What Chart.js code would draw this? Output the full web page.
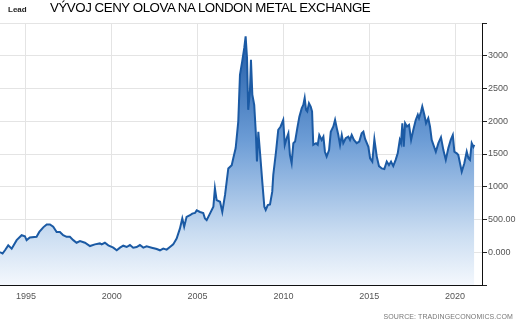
<!DOCTYPE html>
<html>
<head>
<meta charset="utf-8">
<script src="https://cdn.jsdelivr.net/npm/chart.js@4/dist/chart.umd.min.js"></script>
<style>
    html, body { margin: 0; padding: 0; background: #fff; }
    #wrap { position: relative; width: 520px; height: 323px; overflow: hidden; }
    canvas { position: absolute; left: 0; top: 0; }
    .lead { position: absolute; left: 8px; top: 5px; font: bold 8px "Liberation Sans", Arial, sans-serif; color: #222; }
    .title { position: absolute; left: 50px; top: 0px; font: 13.3px "Liberation Sans", Arial, sans-serif; color: #000; letter-spacing: -0.45px; white-space: nowrap; }
    .source { position: absolute; right: 7px; top: 313px; font: 7px "Liberation Sans", Arial, sans-serif; color: #777; letter-spacing: 0.1px; }
</style>
</head>
<body>
<div id="wrap">
    <canvas id="leadChart" width="520" height="323"></canvas>
    <div class="lead">Lead</div>
    <div class="title">VÝVOJ CENY OLOVA NA LONDON METAL EXCHANGE</div>
    <div class="source">SOURCE: TRADINGECONOMICS.COM</div>
</div>
<script>
const dates = [
    1993.49, 1993.64, 1993.78, 1993.97, 1994.17, 1994.46, 1994.75, 1994.94, 1995.04, 1995.23,
    1995.62, 1995.78, 1996.01, 1996.21, 1996.40, 1996.59, 1996.79, 1996.98, 1997.17, 1997.37,
    1997.56, 1997.76, 1997.95, 1998.15, 1998.44, 1998.73, 1999.02, 1999.31, 1999.41, 1999.60,
    1999.80, 2000.09, 2000.29, 2000.48, 2000.67, 2000.87, 2001.06, 2001.25, 2001.45, 2001.64,
    2001.84, 2002.03, 2002.33, 2002.62, 2002.81, 2003.00, 2003.20, 2003.39, 2003.58, 2003.78,
    2003.97, 2004.11, 2004.22, 2004.36, 2004.56, 2004.69, 2004.85, 2004.95, 2005.14, 2005.33,
    2005.43, 2005.53, 2005.72, 2005.92, 2006.01, 2006.11, 2006.31, 2006.44, 2006.60, 2006.79,
    2006.99, 2007.08, 2007.22, 2007.37, 2007.47, 2007.60, 2007.72, 2007.80, 2007.88, 2007.95,
    2008.05, 2008.11, 2008.19, 2008.30, 2008.39, 2008.46, 2008.54, 2008.65, 2008.77, 2008.89,
    2008.97, 2009.09, 2009.22, 2009.35, 2009.41, 2009.57, 2009.70, 2009.84, 2009.99, 2010.08,
    2010.19, 2010.29, 2010.38, 2010.48, 2010.58, 2010.68, 2010.81, 2010.93, 2011.07, 2011.16,
    2011.24, 2011.32, 2011.39, 2011.49, 2011.59, 2011.67, 2011.74, 2011.90, 2012.00, 2012.09,
    2012.23, 2012.33, 2012.42, 2012.52, 2012.66, 2012.76, 2012.91, 2013.01, 2013.11, 2013.20,
    2013.30, 2013.40, 2013.49, 2013.63, 2013.78, 2013.88, 2013.98, 2014.11, 2014.27, 2014.42,
    2014.56, 2014.66, 2014.76, 2014.95, 2015.05, 2015.18, 2015.30, 2015.44, 2015.57, 2015.73,
    2015.88, 2016.02, 2016.15, 2016.27, 2016.40, 2016.54, 2016.66, 2016.78, 2016.85, 2016.93,
    2017.01, 2017.09, 2017.20, 2017.32, 2017.44, 2017.57, 2017.71, 2017.83, 2017.90, 2018.02,
    2018.09, 2018.21, 2018.31, 2018.44, 2018.54, 2018.64, 2018.74, 2018.88, 2019.03, 2019.18,
    2019.32, 2019.46, 2019.61, 2019.75, 2019.87, 2019.96, 2020.10, 2020.19, 2020.39, 2020.54,
    2020.68, 2020.78, 2020.87, 2020.97, 2021.07, 2021.12
];
const prices = [
    0, -20, 30, 105, 55, 185, 260, 245, 185, 225,
    235, 310, 380, 425, 425, 390, 310, 310, 260, 235,
    235, 185, 145, 170, 145, 95, 120, 135, 120, 145,
    105, 70, 30, 70, 100, 80, 110, 70, 80, 110,
    70, 90, 70, 50, 30, 55, 40, 80, 120, 210,
    360, 515, 390, 540, 565, 590, 600, 640, 615, 600,
    515, 490, 590, 695, 975, 795, 770, 615, 875, 1280,
    1330, 1435, 1590, 1995, 2710, 2915, 3120, 3295, 2965, 2175,
    2455, 2940, 2405, 2250, 1840, 1385, 1840, 1485, 1075, 695,
    645, 720, 730, 925, 1180, 1535, 1870, 1920, 2020, 1640,
    1740, 1815, 1485, 1360, 1665, 1690, 1895, 2070, 2200, 2250,
    2355, 2175, 2150, 2275, 2225, 2150, 1640, 1665, 1640, 1790,
    1715, 1765, 1535, 1460, 1560, 1840, 1920, 2020, 1895, 1790,
    1640, 1790, 1665, 1740, 1765, 1715, 1790, 1715, 1665, 1690,
    1815, 1840, 1730, 1610, 1435, 1385, 1725, 1460, 1315, 1280,
    1270, 1385, 1330, 1385, 1315, 1410, 1510, 1715, 1665, 1970,
    1610, 1970, 1920, 1945, 1715, 1870, 2020, 2100, 2045, 2150,
    2225, 2100, 1970, 2045, 1920, 1715, 1640, 1535, 1665, 1755,
    1560, 1410, 1590, 1715, 1790, 1535, 1510, 1485, 1230, 1360,
    1535, 1435, 1410, 1665, 1610, 1640
];

const xTicks = [1995, 2000, 2005, 2010, 2015, 2020];
const yTicks = [-500, 0, 500, 1000, 1500, 2000, 2500, 3000, 3500];
const yTickLabels = ['', '0.000', '500.00', '1000', '1500', '2000', '2500', '3000', ''];

const xMin = 1993.49;
const xMax = 2021.57;

function initLeadChart() {
    const ctx = document.getElementById('leadChart').getContext('2d');
    const points = dates.map((d, i) => ({ x: d, y: prices[i] }));

    function areaGradient(context) {
        const area = context.chart.chartArea;
        if (!area) return 'rgba(30, 90, 165, 0.5)';
        const g = context.chart.ctx.createLinearGradient(0, area.top, 0, area.bottom);
        g.addColorStop(0, '#1552a0');
        g.addColorStop(0.45, '#6d9dd6');
        g.addColorStop(0.8, '#c9dcf1');
        g.addColorStop(1, '#f4f8fd');
        return g;
    }

    new Chart(ctx, {
        type: 'line',
        data: {
            datasets: [{
                label: 'Lead',
                data: points,
                borderColor: '#1b5aa4',
                backgroundColor: areaGradient,
                borderWidth: 2,
                fill: 'start',
                tension: 0,
                pointRadius: 0
            }]
        },
        options: {
            responsive: false,
            animation: false,
            layout: { padding: { top: 23, left: 0, right: 0, bottom: 0 } },
            plugins: {
                legend: { display: false },
                tooltip: { enabled: false }
            },
            scales: {
                x: {
                    type: 'linear',
                    min: xMin,
                    max: xMax,
                    afterBuildTicks: s => { s.ticks = xTicks.map(v => ({ value: v })); },
                    afterFit: s => { s.height = 38; },
                    grid: { color: '#e4e4e4', drawTicks: false },
                    border: { display: true, color: '#111', width: 1 },
                    ticks: {
                        padding: 6,
                        color: '#555',
                        font: { family: 'Liberation Sans, Arial, sans-serif', size: 9 },
                        maxRotation: 0,
                        callback: v => String(v)
                    }
                },
                y: {
                    position: 'right',
                    min: -500,
                    max: 3500,
                    afterBuildTicks: s => { s.ticks = yTicks.map(v => ({ value: v })); },
                    afterFit: s => { s.width = 38; },
                    grid: { color: '#e4e4e4', tickColor: '#222', tickLength: 5 },
                    border: { display: true, color: '#111', width: 1 },
                    ticks: {
                        padding: 1,
                        color: '#555',
                        font: { family: 'Liberation Sans, Arial, sans-serif', size: 9 },
                        callback: (v, i) => yTickLabels[i]
                    }
                }
            }
        }
    });
}

initLeadChart();
</script>
</body>
</html>
